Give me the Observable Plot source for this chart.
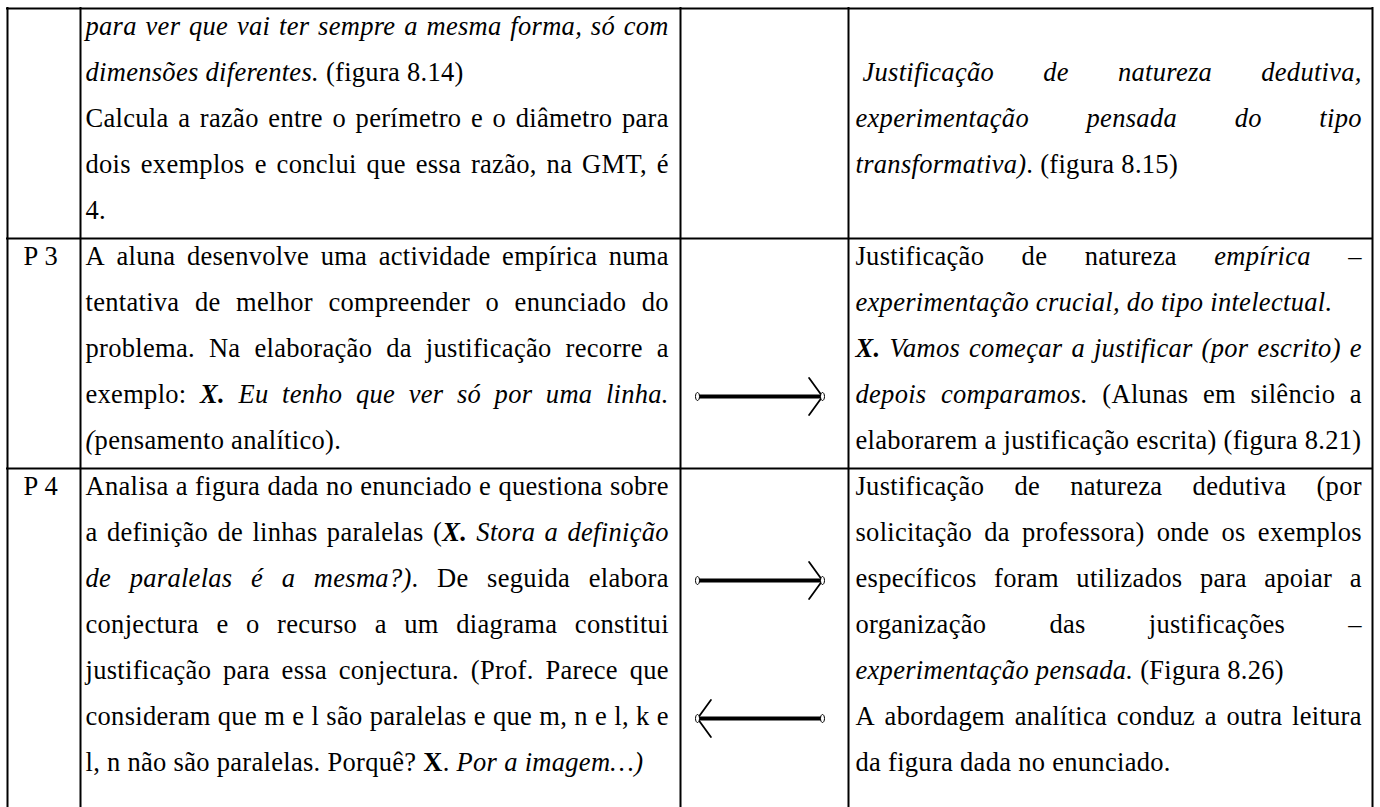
<!DOCTYPE html>
<html><head><meta charset="utf-8">
<script src="https://cdn.jsdelivr.net/npm/d3@7"></script>
<script src="https://cdn.jsdelivr.net/npm/@observablehq/plot@0.6"></script>
<style>html,body{margin:0;padding:0;background:#fff;overflow:hidden}</style>
</head><body><div id="chart"></div>
<script>
// ---------- data ----------
const rowLabels = ["", "P 3", "P 4"];
const rowLineCounts = [5, 5, 7];

// style codes: n = normal, i = italic, b = bold, bi = bold italic; j = justified line
const descriptionLines = [
  [
    {j: 1, r: [["i", "para ver que vai ter sempre a mesma forma, só com"]]},
    {j: 0, r: [["i", "dimensões diferentes."], ["n", " (figura 8.14)"]]},
    {j: 1, r: [["n", "Calcula a razão entre o perímetro e o diâmetro para"]]},
    {j: 1, r: [["n", "dois exemplos e conclui que essa razão, na GMT, é"]]},
    {j: 0, r: [["n", "4."]]}
  ],
  [
    {j: 1, r: [["n", "A aluna desenvolve uma actividade empírica numa"]]},
    {j: 1, r: [["n", "tentativa de melhor compreender o enunciado do"]]},
    {j: 1, r: [["n", "problema. Na elaboração da justificação recorre a"]]},
    {j: 1, r: [["n", "exemplo: "], ["bi", "X."], ["i", " Eu tenho que ver só por uma linha."]]},
    {j: 0, r: [["i", "("], ["n", "pensamento analítico)."]]}
  ],
  [
    {j: 1, r: [["n", "Analisa a figura dada no enunciado e questiona sobre"]]},
    {j: 1, r: [["n", "a definição de linhas paralelas ("], ["bi", "X."], ["i", " Stora a definição"]]},
    {j: 1, r: [["i", "de paralelas é a mesma?)"], ["n", ". De seguida elabora"]]},
    {j: 1, r: [["n", "conjectura e o recurso a um diagrama constitui"]]},
    {j: 1, r: [["n", "justificação para essa conjectura. (Prof. Parece que"]]},
    {j: 1, r: [["n", "consideram que m e l são paralelas e que m, n e l, k e"]]},
    {j: 0, r: [["n", "l, n não são paralelas. Porquê? "], ["b", "X"], ["n", ". "], ["i", "Por a imagem…)"]]}
  ]
];

const justificationLines = [
  [
    {j: 0, r: []},
    {j: 1, r: [["i", " Justificação de natureza dedutiva,"]]},
    {j: 1, r: [["i", "experimentação pensada do tipo"]]},
    {j: 0, r: [["i", "transformativa)"], ["n", ". (figura 8.15)"]]},
    {j: 0, r: []}
  ],
  [
    {j: 1, r: [["n", "Justificação de natureza "], ["i", "empírica –"]]},
    {j: 0, r: [["i", "experimentação crucial, do tipo intelectual."]]},
    {j: 1, r: [["bi", "X."], ["i", " Vamos começar a justificar (por escrito) e"]]},
    {j: 1, r: [["i", "depois comparamos."], ["n", " (Alunas em silêncio a"]]},
    {j: 0, r: [["n", "elaborarem a justificação escrita) (figura 8.21)"]]}
  ],
  [
    {j: 1, r: [["n", "Justificação de natureza dedutiva (por"]]},
    {j: 1, r: [["n", "solicitação da professora) onde os exemplos"]]},
    {j: 1, r: [["n", "específicos foram utilizados para apoiar a"]]},
    {j: 1, r: [["n", "organização das justificações –"]]},
    {j: 0, r: [["i", "experimentação pensada."], ["n", " (Figura 8.26)"]]},
    {j: 1, r: [["n", "A abordagem analítica conduz a outra leitura"]]},
    {j: 0, r: [["n", "da figura dada no enunciado."]]}
  ]
];

// arrows: row index, line index within row, direction (1 = right, -1 = left)
const arrowRows = [1, 2, 2];
const arrowLines = [3, 2, 5];
const arrowDirs = [1, 1, -1];

// ---------- layout ----------
const W = 1380, H = 807;
const L = {
  top: 8, lineH: 46, baseOff: 26, fontSize: 26.5, letterSpacing: 0.3,
  fontStack: "'Liberation Serif', 'Times New Roman', serif",
  cols: [7, 80, 680, 848, 1372],
  labelX: 23, desc: [85, 668], just: [855, 1361],
  arrow: [697, 822], arrowDy: -6
};

const rowTops = [];
{ let t = L.top; rowLineCounts.forEach(n => { rowTops.push(t); t += n * L.lineH; }); }
const baseline = (row, k) => rowTops[row] + L.baseOff + k * L.lineH;

const ctx = document.createElement("canvas").getContext("2d");
const fontFor = s => `${s.includes("i") ? "italic " : ""}${s.includes("b") ? "bold " : ""}${L.fontSize}px ${L.fontStack}`;
const measure = (s, t) => { ctx.font = fontFor(s); return ctx.measureText(t).width + [...t].length * L.letterSpacing; };

const segs = [];
function layoutLine(line, x0, x1, y) {
  if (!line.r.length) return;
  const words = []; let cur = [];
  for (const [s, t] of line.r) {
    let buf = "";
    for (const ch of t) {
      if (ch === " ") { if (buf) cur.push({s, t: buf}); buf = ""; if (cur.length) words.push(cur); cur = []; }
      else buf += ch;
    }
    if (buf) cur.push({s, t: buf});
  }
  if (cur.length) words.push(cur);
  const space = measure("n", " ");
  const lead = line.r[0][1].startsWith(" ") ? space : 0;
  const widths = words.map(w => d3.sum(w, g => measure(g.s, g.t)));
  const total = d3.sum(widths) - L.letterSpacing;
  const start = x0 + lead;
  const gap = line.j && words.length > 1 ? (x1 - start - total) / (words.length - 1) : space;
  let x = start;
  words.forEach(w => {
    for (const g of w) { segs.push({x, y, text: g.t, s: g.s}); x += measure(g.s, g.t); }
    x += gap;
  });
}
descriptionLines.forEach((lines, r) => lines.forEach((ln, k) => layoutLine(ln, L.desc[0], L.desc[1], baseline(r, k))));
justificationLines.forEach((lines, r) => lines.forEach((ln, k) => layoutLine(ln, L.just[0], L.just[1], baseline(r, k))));
rowLabels.forEach((lab, r) => { if (lab) segs.push({x: L.labelX, y: baseline(r, 0), text: lab, s: "n"}); });

const arrows = arrowRows.map((r, i) => {
  const y = baseline(r, arrowLines[i]) + L.arrowDy;
  const [a, b] = arrowDirs[i] > 0 ? L.arrow : [L.arrow[1], L.arrow[0]];
  return {x1: a, x2: b, y};
});
const ends = arrows.flatMap(a => [{x: a.x1, y: a.y}, {x: a.x2, y: a.y}]);

const ellipseSymbol = {
  draw(c, size) {
    const ry = Math.sqrt(size / Math.PI), rx = ry * 0.5, k = 0.5523;
    c.moveTo(0, -ry);
    c.bezierCurveTo(k * rx, -ry, rx, -k * ry, rx, 0);
    c.bezierCurveTo(rx, k * ry, k * rx, ry, 0, ry);
    c.bezierCurveTo(-k * rx, ry, -rx, k * ry, -rx, 0);
    c.bezierCurveTo(-rx, -k * ry, -k * rx, -ry, 0, -ry);
    c.closePath();
  }
};

const textMarks = ["n", "i", "b", "bi"].map(st => Plot.text(segs.filter(d => d.s === st), {
  x: "x", y: "y", text: "text", textAnchor: "start", lineAnchor: "bottom",
  fontSize: L.fontSize, fontFamily: L.fontStack,
  fontStyle: st.includes("i") ? "italic" : "normal",
  fontWeight: st.includes("b") ? "bold" : "normal",
  fill: "black"
}));

const chart = Plot.plot({
  width: W, height: H, margin: 0,
  x: {type: "linear", domain: [0, W], range: [0, W], axis: null},
  y: {type: "linear", domain: [0, H], range: [0, H], axis: null},
  style: {background: "white", fontFamily: L.fontStack},
  marks: [
    Plot.ruleX(L.cols, {x: d => d, y1: L.top - 1, y2: H, stroke: "black", strokeWidth: 2}),
    Plot.ruleY(rowTops, {y: d => d, x1: L.cols[0] - 1, x2: L.cols[4] + 1, stroke: "black", strokeWidth: 2}),
    ...textMarks,
    Plot.arrow(arrows, {x1: "x1", x2: "x2", y1: "y", y2: "y", stroke: "black", strokeWidth: 1.8, headLength: 19, headAngle: 108}),
    Plot.link(arrows, {x1: "x1", x2: "x2", y1: "y", y2: "y", stroke: "black", strokeWidth: 4}),
    Plot.dot(ends, {x: "x", y: "y", r: 4, symbol: ellipseSymbol, fill: "white", stroke: "black", strokeWidth: 1})
  ]
});
chart.querySelectorAll("text").forEach(t => t.setAttribute("letter-spacing", L.letterSpacing));
document.getElementById("chart").append(chart);
</script>
</body></html>
